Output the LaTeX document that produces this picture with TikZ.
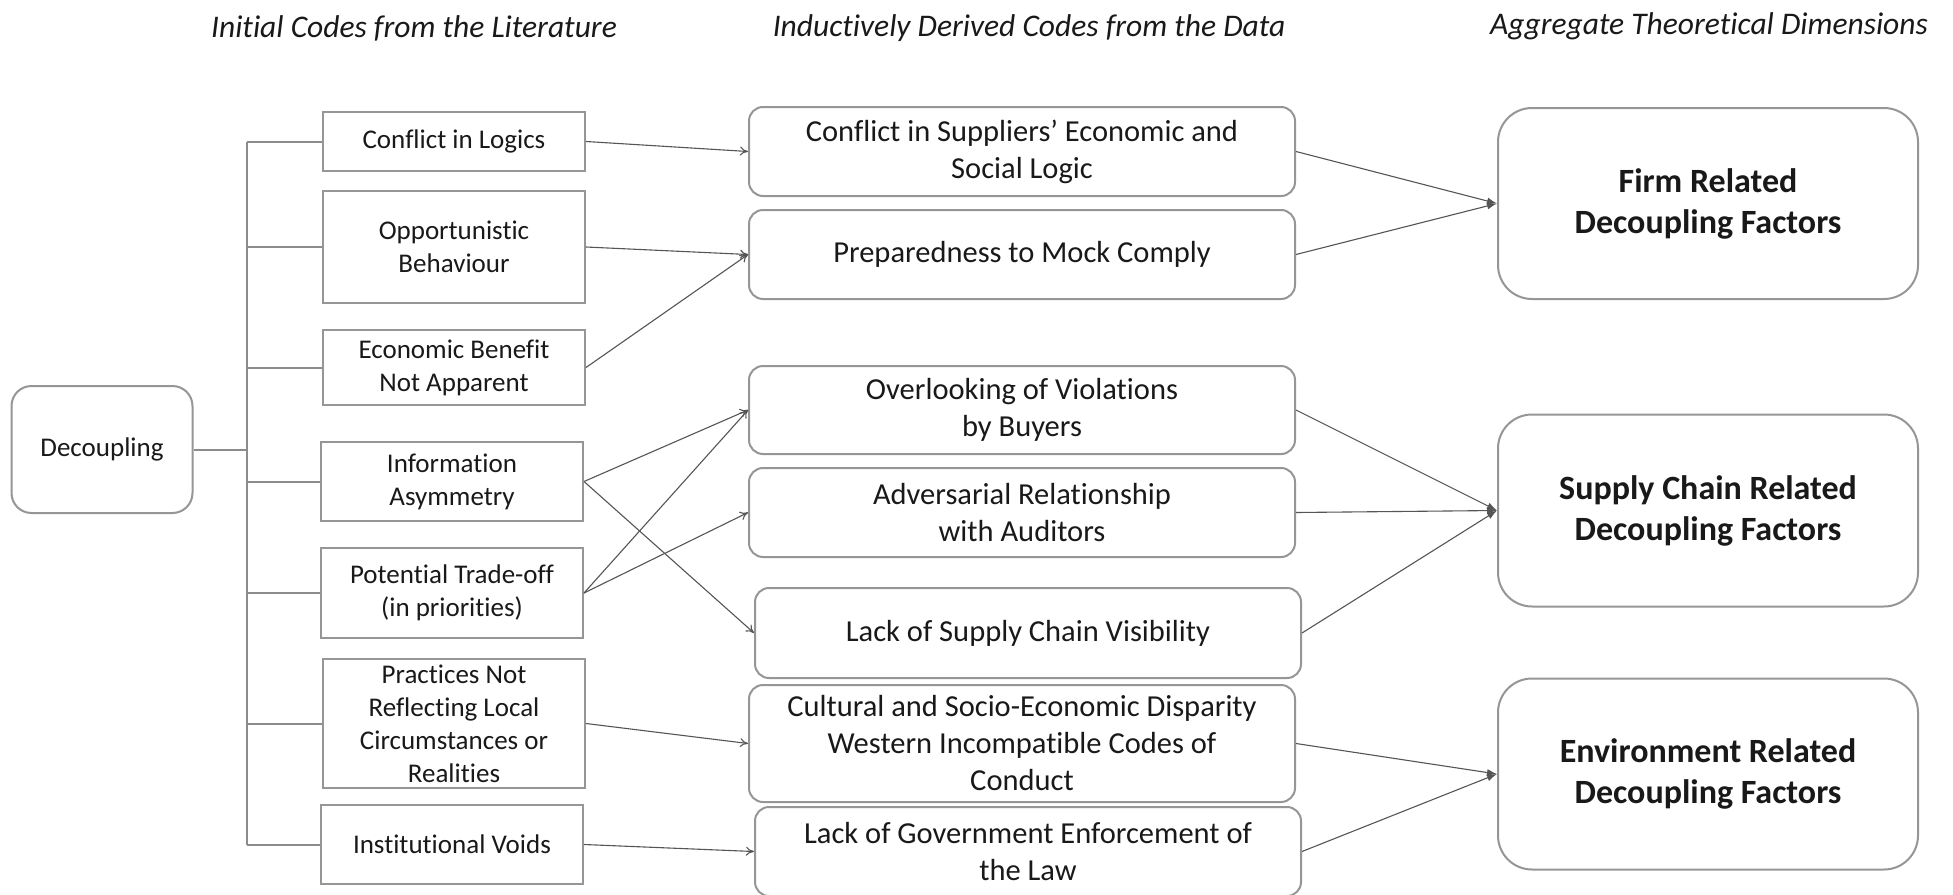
\documentclass[tikz,border=0pt]{standalone}
\usepackage{fontspec}
\setmainfont[Ligatures=NoCommon]{Carlito}
\usetikzlibrary{arrows.meta}
\definecolor{boxgray}{RGB}{150,150,150}
\definecolor{trunkgray}{RGB}{140,140,140}
\definecolor{linkgray}{RGB}{85,85,85}
\definecolor{txt}{RGB}{25,25,25}
\begin{document}
\begin{tikzpicture}[x=1pt,y=-1pt,
  every node/.style={text=txt,inner sep=0pt,align=center},
  lbox/.style={draw=boxgray,line width=2pt,minimum width=262pt,font=\fontsize{27}{33}\selectfont},
  mbox/.style={draw=boxgray,line width=2pt,rounded corners=14pt,minimum width=546pt,font=\fontsize{30.5}{37}\selectfont},
  rbox/.style={draw=boxgray,line width=2pt,rounded corners=34pt,minimum width=420pt,font=\fontsize{34}{41}\selectfont\bfseries},
  hdr/.style={font=\fontsize{31.5}{36}\selectfont\itshape},
  trunk/.style={draw=trunkgray,line width=2pt},
  openarr/.style={draw=linkgray,line width=1.1pt,-{To[length=8pt,width=9pt]}},
  fillarr/.style={draw=linkgray,line width=1.1pt,-{Latex[length=10pt,width=7pt]}}
]
\fill[white] (0,0) rectangle (1953,894);
\useasboundingbox (0,0) rectangle (1953,894);

% headers
\node[hdr] (h1) at (414,28) {Initial Codes from the Literature};
\node[hdr] (h2) at (1029,28) {Inductively Derived Codes from the Data};
\node[hdr] (h3) at (1709,26) {Aggregate Theoretical Dimensions};

% root
\node[draw=boxgray,line width=2pt,rounded corners=20pt,minimum width=181pt,minimum height=127pt,font=\fontsize{27}{33}\selectfont] (dec) at (102,449.5) {Decoupling};

% left boxes
\node[lbox,minimum height=59pt]  (cl) at (454,141.5) {Conflict in Logics};
\node[lbox,minimum height=112pt] (ob) at (454,247) {Opportunistic\\Behaviour};
\node[lbox,minimum height=75pt]  (eb) at (454,367.5) {Economic Benefit\\Not Apparent};
\node[lbox,minimum height=79pt]  (ia) at (452,481.5) {Information\\Asymmetry};
\node[lbox,minimum height=90pt]  (pt) at (452,593) {Potential Trade-off\\(in priorities)};
\node[lbox,minimum height=129pt] (pn) at (454,723.5) {Practices Not\\Reflecting Local\\Circumstances or\\Realities};
\node[lbox,minimum height=79pt]  (iv) at (452,844.5) {Institutional Voids};

% middle boxes
\node[mbox,minimum height=89pt]  (cs) at (1022,151.5) {Conflict in Suppliers’ Economic and\\Social Logic};
\node[mbox,minimum height=89pt]  (pm) at (1022,254.5) {Preparedness to Mock Comply};
\node[mbox,minimum height=88pt]  (ov) at (1022,410) {Overlooking of Violations\\by Buyers};
\node[mbox,minimum height=89pt]  (ar) at (1022,512.5) {Adversarial Relationship\\with Auditors};
\node[mbox,minimum height=90pt]  (ls) at (1028,633) {Lack of Supply Chain Visibility};
\node[mbox,minimum height=117pt] (cd) at (1022,743.5) {Cultural and Socio-Economic Disparity\\Western Incompatible Codes of\\Conduct};
\node[mbox,minimum height=89pt]  (lg) at (1028,851.5) {Lack of Government Enforcement of\\the Law};

% right boxes
\node[rbox,minimum height=191pt] (fr) at (1708,203.5) {Firm Related\\Decoupling Factors};
\node[rbox,minimum height=192pt] (sc) at (1708,510.5) {Supply Chain Related\\Decoupling Factors};
\node[rbox,minimum height=191pt] (er) at (1708,774) {Environment Related\\Decoupling Factors};

% trunk
\coordinate (tx) at (247,0);
\draw[trunk] (cl.west -| tx) -- (iv.west -| tx);
\draw[trunk] (dec.east) -- (dec.east -| tx);
\foreach \b in {cl,ob,eb,ia,pt,pn,iv}{
  \draw[trunk] (\b.west) -- (\b.west -| tx);
}

% left to middle
\draw[openarr] (cl.east) -- (cs.west);
\draw[openarr] (ob.east) -- (pm.west);
\draw[openarr] (eb.east) -- (pm.west);
\draw[openarr] (ia.east) -- (ov.west);
\draw[openarr] (ia.east) -- (ls.west);
\draw[openarr] (pt.east) -- (ov.west);
\draw[openarr] (pt.east) -- (ar.west);
\draw[openarr] (pn.east) -- (cd.west);
\draw[openarr] (iv.east) -- (lg.west);

% middle to right
\draw[fillarr] (cs.east) -- (fr.west);
\draw[fillarr] (pm.east) -- (fr.west);
\draw[fillarr] (ov.east) -- (sc.west);
\draw[fillarr] (ar.east) -- (sc.west);
\draw[fillarr] (ls.east) -- (sc.west);
\draw[fillarr] (cd.east) -- (er.west);
\draw[fillarr] (lg.east) -- (er.west);
\end{tikzpicture}
\end{document}
